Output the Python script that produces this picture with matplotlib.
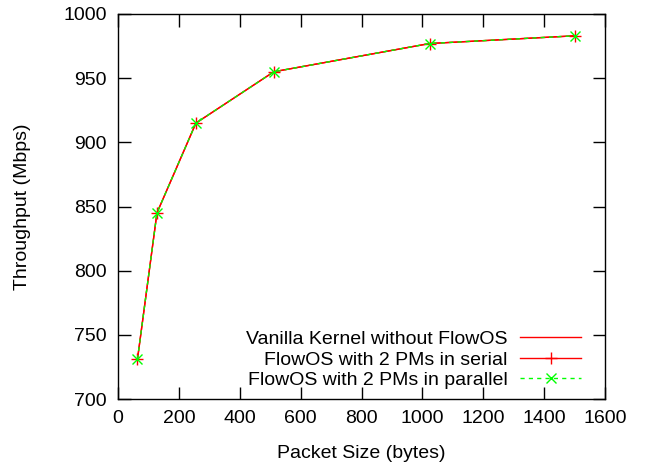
import matplotlib
matplotlib.use("Agg")
import matplotlib.pyplot as plt

plt.rcParams['font.family'] = ['Liberation Sans', 'DejaVu Sans']

packet_size = [64, 128, 256, 512, 1024, 1500]
vanilla = [731, 845, 915, 955, 977, 983]
serial = [731, 845, 915, 955, 977, 983]
parallel = [731, 845, 915, 955, 977, 983]

labels = ["Vanilla Kernel without FlowOS",
          "FlowOS with 2 PMs in serial",
          "FlowOS with 2 PMs in parallel"]

fig = plt.figure(figsize=(6.46, 4.66), dpi=100)
ax = fig.add_axes([118 / 646, 1 - 399 / 466, (605 - 118) / 646, (399 - 14) / 466])

ax.plot(packet_size, vanilla, color='#ff0000', lw=1.0, label=labels[0])
ax.plot(packet_size, serial, color='#ff0000', lw=1.0, marker='+', ms=9,
        mew=1.0, label=labels[1])
ax.plot(packet_size, parallel, color='#00ff00', lw=1.0, ls=(0, (3, 3)),
        marker='x', ms=7, mew=1.0, label=labels[2])

ax.set_xlim(0, 1600)
ax.set_ylim(700, 1000)
ax.set_xticks(range(0, 1601, 200))
ax.set_yticks(range(700, 1001, 50))
ax.tick_params(direction='in', top=True, right=True, labelsize=14, length=9,
               width=1, pad=8)
for s in ax.spines.values():
    s.set_linewidth(1.0)
ax.set_xlabel("Packet Size (bytes)", fontsize=14, labelpad=13)
ax.set_ylabel("Throughput (Mbps)", fontsize=14, labelpad=23)

ax.legend(loc='lower right', frameon=False, markerfirst=False, fontsize=14,
          handlelength=3.1, handletextpad=0.67, labelspacing=0.15,
          borderaxespad=0.1, bbox_to_anchor=(0.97, 0.0))

fig.savefig("out.png", dpi=100)
